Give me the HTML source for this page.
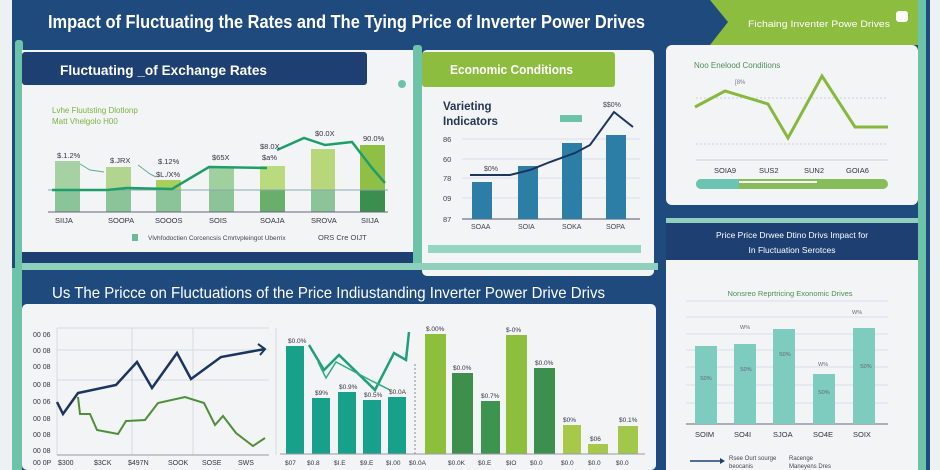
<!DOCTYPE html>
<html><head><meta charset="utf-8"><style>
html,body{margin:0;padding:0;background:#eef1f3;}
svg{display:block;font-family:"Liberation Sans",sans-serif;}
</style></head><body>
<svg width="940" height="470" viewBox="0 0 940 470" xmlns="http://www.w3.org/2000/svg">
<rect width="940" height="470" fill="#eef1f3"/>
<rect x="12" y="0" width="918" height="470" fill="#1f4a7e"/>
<rect x="918" y="0" width="8" height="470" fill="#6cc3a8"/>
<polygon points="710,0 918,0 918,45 710,45 728,22" fill="#8cbd3f"/>
<text x="48" y="28" font-size="18.5" font-weight="bold" fill="#fff" textLength="597" lengthAdjust="spacingAndGlyphs">Impact of Fluctuating the Rates and The Tying Price of Inverter Power Drives</text>
<text x="748" y="27" font-size="9.5" fill="#fff" textLength="142" lengthAdjust="spacingAndGlyphs">Fichaing Inventer Powe Drives</text>
<rect x="896" y="11" width="12" height="11" rx="3" fill="#fff"/>

<rect x="15" y="40" width="8" height="230" rx="3" fill="#6cc3a8"/>
<rect x="22" y="50" width="391" height="205" fill="#f2f4f5"/>
<rect x="22" y="52" width="345" height="33" rx="3" fill="#1d3f72"/>
<text x="60" y="75" font-size="14" font-weight="bold" fill="#fff" textLength="207" lengthAdjust="spacingAndGlyphs">Fluctuating  _of Exchange Rates</text>
<circle cx="402" cy="84" r="4" fill="#6cc3a8"/>
<rect x="22" y="252" width="391" height="18" fill="#1d3f72"/>
<text x="52" y="113" font-size="8" fill="#7cb342">Lvhe Fluutsting Dlotlonp</text>
<text x="52" y="124" font-size="8" fill="#7cb342">Matt Vhelgolo H00</text>
<g>
<rect x="55" y="161" width="25" height="51" fill="#a6d1a3"/>
<rect x="106" y="167" width="25" height="45" fill="#b1d58e"/>
<rect x="156" y="180" width="25" height="32" fill="#a8cf5e"/>
<rect x="209" y="167" width="25" height="45" fill="#9fd09e"/>
<rect x="260" y="166" width="25" height="46" fill="#b9da7d"/>
<rect x="311" y="149" width="24" height="63" fill="#b7d77a"/>
<rect x="360" y="145" width="25" height="67" fill="#8fbf45"/>
<rect x="55" y="190" width="25" height="22" fill="#8cc49a"/>
<rect x="106" y="190" width="25" height="22" fill="#8cc49a"/>
<rect x="156" y="190" width="25" height="22" fill="#8cc49a"/>
<rect x="209" y="190" width="25" height="22" fill="#8cc49a"/>
<rect x="260" y="190" width="25" height="22" fill="#6aae6b"/>
<rect x="311" y="190" width="24" height="22" fill="#8cc49a"/>
<rect x="360" y="190" width="25" height="22" fill="#3b8e4d"/>
<line x1="48" y1="190" x2="388" y2="190" stroke="#8aa" stroke-width="1"/>
<line x1="48" y1="212" x2="388" y2="212" stroke="#667" stroke-width="1"/>
<polyline points="52,190 107,190 127,188 172,189 209,167 267,168" fill="none" stroke="#1e9e6a" stroke-width="2.5"/>
<polyline points="277,150 304,138 325,145 352,142 372,168 385,183" fill="none" stroke="#1e9e6a" stroke-width="2.5"/>
<polyline points="80,164 90,170 104,172" fill="none" stroke="#6a8" stroke-width="1"/>
<polyline points="138,165 150,174 156,177" fill="none" stroke="#6a8" stroke-width="1"/>
</g>
<g font-size="7.5" fill="#334">
<text x="57" y="158">$.1.2%</text><text x="110" y="163">$.JRX</text><text x="158" y="164">$.12%</text>
<text x="156" y="177">$L./X%</text><text x="212" y="160">$65X</text><text x="260" y="149">$8.0X</text>
<text x="262" y="160">$a%</text><text x="315" y="136">$0.0X</text><text x="363" y="141">90.0%</text>
<text x="55" y="223">SIIJA</text><text x="108" y="223">SOOPA</text><text x="155" y="223">SOOOS</text>
<text x="209" y="223">SOIS</text><text x="260" y="223">SOAJA</text><text x="311" y="223">SROVA</text><text x="361" y="223">SIIJA</text>
</g>
<rect x="132" y="234" width="6" height="7" fill="#6cbb96"/>
<text x="148" y="240" font-size="6.5" fill="#445">Vlvhfodoctien Corcencsis Cmrtvpleingot Uberrix</text>
<text x="318" y="240" font-size="7.5" fill="#445">ORS Cre OIJT</text>

<rect x="413" y="45" width="9" height="222" rx="3" fill="#6cc3a8"/>
<rect x="422" y="50" width="232" height="226" rx="5" fill="#f2f4f5"/>
<rect x="422" y="52" width="193" height="35" rx="3" fill="#8cbd3f"/>
<text x="450" y="74" font-size="13" font-weight="bold" fill="#fff" textLength="123" lengthAdjust="spacingAndGlyphs">Economic Conditions</text>
<text x="443" y="110" font-size="11.5" font-weight="bold" fill="#243553">Varieting</text>
<text x="443" y="125" font-size="11.5" font-weight="bold" fill="#243553">Indicators</text>
<rect x="560" y="115" width="22" height="7" fill="#6cc3a8"/>
<g stroke="#dde" stroke-width="1">
<line x1="462" y1="139" x2="640" y2="139"/><line x1="462" y1="159" x2="640" y2="159"/>
<line x1="462" y1="178" x2="640" y2="178"/><line x1="462" y1="198" x2="640" y2="198"/>
</g>
<line x1="462" y1="219" x2="640" y2="219" stroke="#556" stroke-width="1"/>
<g font-size="7.5" fill="#445">
<text x="443" y="142">86</text><text x="443" y="162">60</text><text x="443" y="181">78</text><text x="443" y="201">09</text><text x="443" y="222">87</text>
</g>
<rect x="472" y="182" width="20" height="37" fill="#2d7ea6"/>
<rect x="518" y="166" width="20" height="53" fill="#2d7ea6"/>
<rect x="562" y="143" width="20" height="76" fill="#2d7ea6"/>
<rect x="606" y="135" width="20" height="84" fill="#2d7ea6"/>
<polyline points="470,175 510,175 530,170 550,162 575,153 590,145 614,112 633,127" fill="none" stroke="#1b3460" stroke-width="2"/>
<g font-size="7" fill="#445"><text x="484" y="171">$0%</text><text x="603" y="107">$$0%</text>
<text x="471" y="229">SOAA</text><text x="518" y="229">SOIA</text><text x="562" y="229">SOKA</text><text x="606" y="229">SOPA</text></g>
<rect x="428" y="245" width="213" height="8" fill="#95d6c2"/>

<rect x="666" y="45" width="252" height="160" rx="6" fill="#f2f4f5"/>
<text x="694" y="68" font-size="8" fill="#4f8e57">Noo Enelood Conditions</text>
<text x="735" y="84" font-size="6" fill="#778">[8%</text>
<line x1="696" y1="98" x2="888" y2="98" stroke="#ccd" stroke-dasharray="2,2"/>
<line x1="696" y1="144" x2="888" y2="144" stroke="#ccd" stroke-dasharray="2,2"/>
<line x1="696" y1="160" x2="888" y2="160" stroke="#ccd"/>
<polyline points="695,107 725,91 768,104 788,138 822,76 855,127 888,127" fill="none" stroke="#86b83e" stroke-width="3"/>
<g font-size="7.5" fill="#334"><text x="714" y="173">SOIA9</text><text x="759" y="173">SUS2</text><text x="804" y="173">SUN2</text><text x="846" y="173">GOIA6</text></g>
<rect x="696" y="179" width="192" height="10" rx="5" fill="#86bd5a"/>
<path d="M701,179 h38 v10 h-38 a5,5 0 0 1 0,-10z" fill="#6cc3b0"/>
<rect x="739" y="181" width="78" height="2" fill="#fff"/>

<rect x="666" y="218" width="252" height="5" fill="#8fd0bd"/>
<rect x="666" y="223" width="252" height="37" fill="#1d3f72"/>
<text x="792" y="238" font-size="8.5" fill="#fff" text-anchor="middle">Price Price Drwee Dtino Drivs Impact for</text>
<text x="792" y="253" font-size="8.5" fill="#fff" text-anchor="middle">In Fluctuation Serotces</text>
<rect x="666" y="260" width="252" height="210" fill="#f2f4f5"/>
<text x="790" y="296" font-size="7.5" fill="#4f8e57" text-anchor="middle">Nonsreo Reprtricing Exonomic Drives</text>
<g stroke="#dde"><line x1="686" y1="301" x2="888" y2="301"/><line x1="686" y1="317" x2="888" y2="317"/>
<line x1="686" y1="334" x2="888" y2="334"/><line x1="686" y1="350" x2="888" y2="350"/><line x1="686" y1="367" x2="888" y2="367"/>
<line x1="686" y1="385" x2="888" y2="385"/><line x1="686" y1="403" x2="888" y2="403"/></g>
<line x1="686" y1="424" x2="888" y2="424" stroke="#667"/>
<g fill="#7ecbbf"><rect x="695" y="346" width="22" height="78"/><rect x="734" y="344" width="22" height="80"/>
<rect x="773" y="329" width="22" height="95"/><rect x="813" y="374" width="22" height="50"/><rect x="853" y="328" width="22" height="96"/></g>
<g font-size="5.5" fill="#667"><text x="740" y="329">W%</text><text x="852" y="314">W%</text><text x="818" y="366">W%</text>
<text x="700" y="380">S0%</text><text x="740" y="371">S0%</text><text x="779" y="356">S0%</text><text x="818" y="394">S0%</text><text x="860" y="368">S0%</text></g>
<g font-size="7.5" fill="#334"><text x="695" y="437">SOIM</text><text x="734" y="437">SO4I</text><text x="773" y="437">SJOA</text><text x="813" y="437">SO4E</text><text x="853" y="437">SOIX</text></g>
<line x1="690" y1="461" x2="720" y2="461" stroke="#1d3f72" stroke-width="1.5"/>
<polygon points="720,458 725,461 720,464" fill="#1d3f72"/>
<text x="729" y="460" font-size="6" fill="#445">Rsee Ourt sourge</text>
<text x="789" y="460" font-size="6" fill="#445">Racenge</text>
<text x="729" y="468" font-size="6" fill="#445">beocanis</text>
<text x="789" y="468" font-size="6" fill="#445">Maneyens Dres</text>

<rect x="12" y="268" width="10" height="202" fill="#6cc3a8"/>
<rect x="22" y="263" width="636" height="7" fill="#8fd0bd"/>
<text x="52" y="298" font-size="16" fill="#fff" textLength="553" lengthAdjust="spacingAndGlyphs">Us The Pricce on Fluctuations of the Price Indiustanding Inverter Power Drive Drivs</text>
<rect x="22" y="304" width="634" height="166" rx="5" fill="#f2f4f5"/>
<g stroke="#d6dbe0"><line x1="57" y1="328" x2="269" y2="328"/><line x1="57" y1="350" x2="269" y2="350"/><line x1="57" y1="380" x2="269" y2="380"/>
<line x1="57" y1="328" x2="57" y2="455"/><line x1="132" y1="328" x2="132" y2="455"/><line x1="193" y1="328" x2="193" y2="455"/><line x1="276" y1="328" x2="276" y2="455"/></g>
<line x1="57" y1="455" x2="269" y2="455" stroke="#99a"/>
<g font-size="7" fill="#334"><text x="33" y="337">00 06</text><text x="33" y="353">00 08</text><text x="33" y="369">00 08</text>
<text x="33" y="387">00 08</text><text x="33" y="404">00 06</text><text x="33" y="421">00 08</text><text x="33" y="437">00 08</text><text x="33" y="453">00 08</text><text x="33" y="465">00 0P</text></g>
<polyline points="57,402 63,414 78,393 116,385 137,362 152,388 177,353 191,379 221,357 265,349" fill="none" stroke="#1b3460" stroke-width="2.5"/>
<polyline points="78,397 80,414 90,414 97,430 118,434 126,421 145,420 158,403 185,397 204,403 215,425 223,416 236,433 253,446 265,438" fill="none" stroke="#4f8e3a" stroke-width="2"/>
<polyline points="258,344 265,349 260,355" fill="none" stroke="#1b3460" stroke-width="2"/>
<g font-size="7" fill="#334"><text x="58" y="465">$300</text><text x="94" y="465">$3CK</text><text x="128" y="465">$497N</text>
<text x="168" y="465">SOOK</text><text x="202" y="465">SOSE</text><text x="238" y="465">SWS</text></g>

<g fill="#17a08a"><rect x="286" y="346" width="18" height="108"/><rect x="312" y="398" width="18" height="56"/>
<rect x="338" y="392" width="18" height="62"/><rect x="363" y="400" width="18" height="54"/><rect x="388" y="397" width="18" height="57"/></g>
<polyline points="309,345 324,370 339,355 375,390 394,353 406,360 409,332" fill="none" stroke="#1e9e7a" stroke-width="2.5"/>
<polyline points="318,362 326,378 336,362 370,380 390,390" fill="none" stroke="#2fae7a" stroke-width="1.5"/>
<line x1="415" y1="364" x2="415" y2="454" stroke="#889" stroke-dasharray="2,2"/>
<rect x="425" y="334" width="21" height="120" fill="#8dbf3d"/>
<rect x="452" y="373" width="21" height="81" fill="#3f8f4c"/>
<rect x="481" y="401" width="19" height="53" fill="#3d9350"/>
<rect x="506" y="335" width="21" height="119" fill="#8dbf3d"/>
<rect x="534" y="368" width="21" height="86" fill="#3d8f4e"/>
<rect x="563" y="425" width="18" height="29" fill="#a8c84a"/>
<rect x="588" y="444" width="20" height="10" fill="#a8c84a"/>
<rect x="618" y="426" width="20" height="28" fill="#a1c84b"/>
<line x1="280" y1="454" x2="645" y2="454" stroke="#99a"/>
<g font-size="6.5" fill="#334"><text x="288" y="343">$0.0%</text><text x="315" y="395">$9%</text><text x="339" y="389">$0.9%</text>
<text x="364" y="397">$0.5%</text><text x="389" y="394">$0.0A</text><text x="426" y="331">$.00%</text><text x="453" y="370">$0.0%</text>
<text x="481" y="398">$0.7%</text><text x="506" y="332">$-0%</text><text x="535" y="365">$0.0%</text><text x="563" y="422">$0%</text>
<text x="590" y="441">$06</text><text x="619" y="422">$0.1%</text></g>
<g font-size="6.5" fill="#334"><text x="285" y="465">$07</text><text x="307" y="465">$0.8</text><text x="334" y="465">$I.E</text>
<text x="360" y="465">$9.E</text><text x="386" y="465">$I.00</text><text x="409" y="465">$0.0A</text><text x="448" y="465">$0.0K</text>
<text x="478" y="465">$0.E</text><text x="506" y="465">$IO</text><text x="530" y="465">$0.0</text><text x="561" y="465">$0.0</text>
<text x="588" y="465">$0.0</text><text x="616" y="465">$0.0</text></g>
</svg>
</body></html>
